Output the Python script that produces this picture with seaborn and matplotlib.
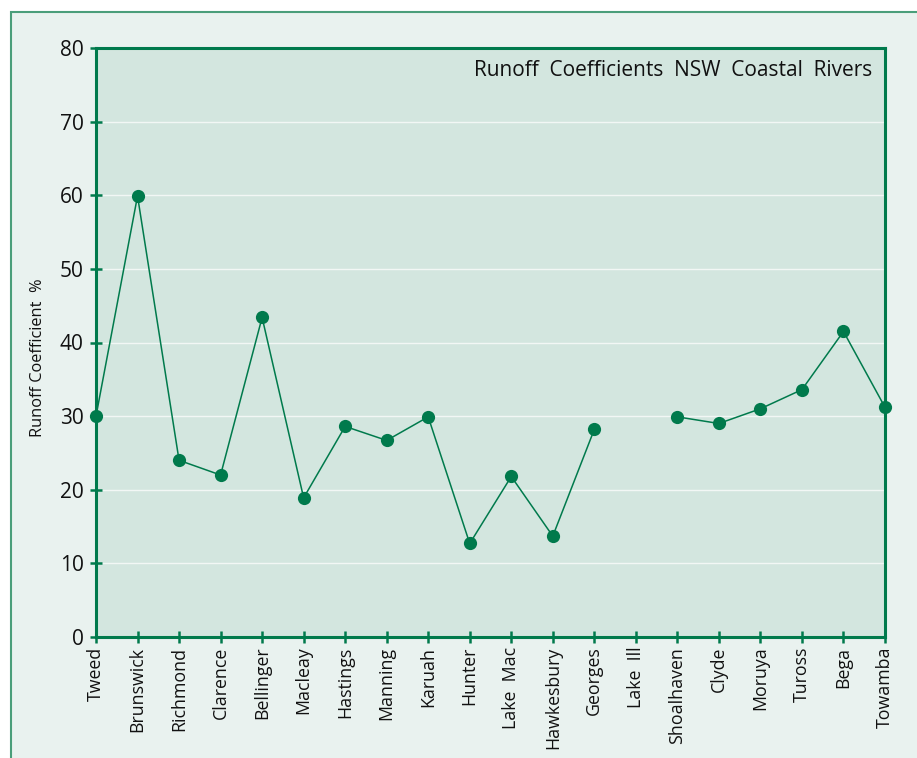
import numpy as np
import pandas as pd
import matplotlib
matplotlib.use("Agg")
import matplotlib.pyplot as plt
from matplotlib.patches import Rectangle
import seaborn as sns

rivers = ["Tweed", "Brunswick", "Richmond", "Clarence", "Bellinger", "Macleay",
          "Hastings", "Manning", "Karuah", "Hunter", "Lake  Mac", "Hawkesbury",
          "Georges", "Lake  Ill", "Shoalhaven", "Clyde", "Moruya", "Tuross",
          "Bega", "Towamba"]
runoff = [30.0, 59.9, 24.0, 22.0, 43.4, 18.9, 28.6, 26.7, 29.9, 12.7, 21.8,
          13.7, 28.2, np.nan, 29.9, 29.0, 31.0, 33.6, 41.5, 31.2]
y_ticks = [0, 10, 20, 30, 40, 50, 60, 70, 80]
title_text = "Runoff  Coefficients  NSW  Coastal  Rivers"
y_label = "Runoff Coefficient  %"

GREEN = "#007a4c"
AX_BG = "#d3e6df"
FIG_BG = "#e9f2ef"

sns.set_theme(style="white")
plt.rcParams["font.family"] = ["Open Sans", "DejaVu Sans"]

df = pd.DataFrame({"pos": np.arange(len(rivers)), "river": rivers, "runoff": runoff})
# segment id: break the line at missing values
df["seg"] = df["runoff"].isna().cumsum()
df_valid = df.dropna(subset=["runoff"])

fig = plt.figure(figsize=(9.17, 7.58), dpi=100, facecolor="white")
fig.patches.append(Rectangle((11 / 917, -0.01), 1.0, (758 - 12) / 758 + 0.01,
                             transform=fig.transFigure, facecolor=FIG_BG,
                             edgecolor="#4a9e7a", linewidth=1.5, zorder=-10))
ax = fig.add_axes([96 / 917, (758 - 637) / 758, (885 - 96) / 917, (637 - 48) / 758])
ax.set_facecolor(AX_BG)

for seg, sub in df_valid.groupby("seg"):
    sns.lineplot(data=sub, x="pos", y="runoff", ax=ax, color=GREEN, linewidth=1.1,
                 marker="o", markersize=9.5, markeredgewidth=0, clip_on=False,
                 zorder=5)

ax.set_xlim(0, len(rivers) - 1)
ax.set_ylim(0, 80)
ax.set_yticks(y_ticks)
ax.set_xticks(df["pos"])
ax.set_xticklabels(rivers, rotation=90, fontsize=12.8)
ax.set_yticklabels([str(t) for t in y_ticks], fontsize=15)
ax.yaxis.grid(True, color="#f2f7f5", linewidth=1.0)
ax.xaxis.grid(False)
ax.set_axisbelow(True)
for s in ax.spines.values():
    s.set_color(GREEN)
    s.set_linewidth(2.2)
ax.tick_params(axis="both", direction="inout", length=8, width=1.8, color=GREEN,
               labelcolor="#111111", left=True, bottom=True)
ax.tick_params(axis="x", pad=3)
ax.tick_params(axis="y", pad=5)
ax.set_xlabel("")
ax.set_ylabel(y_label, fontsize=11.8, color="#111111")
ax.yaxis.set_label_coords(-0.0635, 0.474)
ax.text(0.9835, 0.961, title_text, transform=ax.transAxes, ha="right", va="center",
        fontsize=15, color="#111111")

fig.savefig("out.png", dpi=100, facecolor=fig.get_facecolor())
